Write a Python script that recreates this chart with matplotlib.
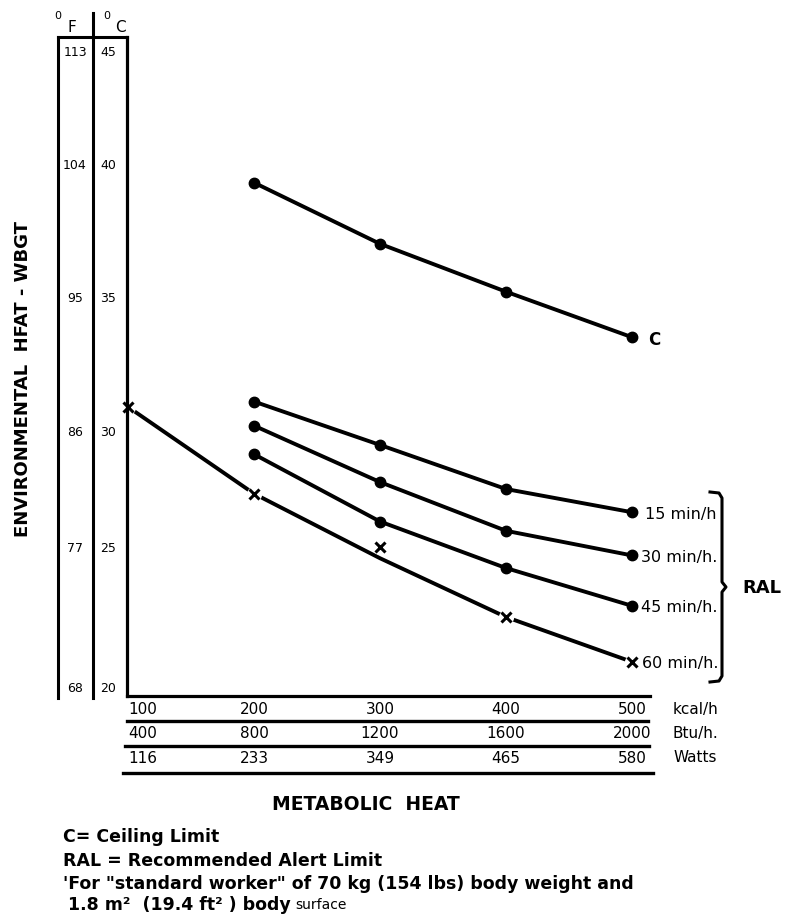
import numpy as np
import matplotlib.pyplot as plt
from matplotlib import transforms

# metabolic heat scales
kcal = [100, 200, 300, 400, 500]
btu = [400, 800, 1200, 1600, 2000]
watts = [116, 233, 349, 465, 580]

# WBGT scale labels
deg_c = [20, 25, 30, 35, 40, 45]
deg_f = [68, 77, 86, 95, 104, 113]

# WBGT (deg C)
load = [200, 300, 400, 500]
ceiling = [39.3, 37.0, 35.2, 33.5]
ral_15 = [31.1, 29.4, 27.5, 26.5]
ral_30 = [30.2, 27.8, 25.7, 24.7]
ral_45 = [29.0, 26.1, 24.25, 22.9]
ral_60_line = [30.9, 27.3, 24.6, 22.5, 20.9]
ral_60_marks = [30.9, 27.3, 25.0, 22.5, 20.9]

curve_names = ['15 min/h', '30 min/h.', '45 min/h.']

W, H = 787, 920
fig = plt.figure(figsize=(W / 100, H / 100), dpi=100)

# background axes in pixel units for the frame, table rules and notes
bg = fig.add_axes([0, 0, 1, 1])
bg.set_xlim(0, W)
bg.set_ylim(H, 0)
bg.axis('off')

ax = fig.add_axes([127 / W, 1 - 697 / H, (650 - 127) / W, (697 - 38) / H])
ax.patch.set_alpha(0)

# the printed WBGT scale is not evenly spaced
t_knots = [15, 20, 25, 30, 35, 40, 45, 50]
r_knots = np.array([828, 688, 548, 432, 298, 165, 52, -61], dtype=float)
def fwd(t):
    return np.interp(t, t_knots, -r_knots)
def inv(p):
    return np.interp(p, -r_knots, t_knots)
ax.set_yscale('function', functions=(fwd, inv))
ax.set_ylim(19.68, 45.62)
ax.set_xlim(99.2, 514.3)
ax.set_xticks([])
ax.set_yticks([])
ax.minorticks_off()
for s in ['top', 'right']:
    ax.spines[s].set_visible(False)
for s in ['left', 'bottom']:
    ax.spines[s].set_linewidth(2.3)

lw = 2.8
ax.plot(load, ceiling, color='k', lw=lw, marker='o', ms=7.5, clip_on=False)
for vals in [ral_15, ral_30, ral_45]:
    ax.plot(load, vals, color='k', lw=lw, marker='o', ms=7.5, clip_on=False)
ax.plot(kcal, ral_60_line, color='k', lw=lw, clip_on=False)
ax.plot(kcal, ral_60_marks, 'o', mfc='white', mec='none', ms=11, clip_on=False)
ax.plot(kcal, ral_60_marks, 'x', color='k', ms=6.5, mew=2.2, clip_on=False)

# curve labels
ax.annotate('C', xy=(load[-1], ceiling[-1]), xytext=(16, -2), textcoords='offset pixels',
            va='center', ha='left', fontsize=12, fontweight='bold')
for name, vals, dx in zip(curve_names, [ral_15, ral_30, ral_45], [13, 9, 9]):
    ax.annotate(name, xy=(load[-1], vals[-1]), xytext=(dx, -1), textcoords='offset pixels',
                va='center', ha='left', fontsize=11.5)
ax.annotate('60 min/h.', xy=(kcal[-1], ral_60_marks[-1]), xytext=(10, -1),
            textcoords='offset pixels', va='center', ha='left', fontsize=11.5)

# brace for RAL
bx = [710, 719, 722, 722, 726, 722, 722, 719, 710]
by = [493, 494, 499, 583, 588, 593, 677, 682, 683]
bg.plot(bx, by, color='k', lw=2.2, solid_joinstyle='round')
bg.text(742, 588, 'RAL', fontsize=13, fontweight='bold', va='center', ha='left')

# temperature columns
bg.plot([58, 58], [38, 699], color='k', lw=2.2)
bg.plot([93, 93], [14, 699], color='k', lw=2.2)
bg.plot([58, 127], [38, 38], color='k', lw=2.2)
bg.text(58, 16, '0', fontsize=8, ha='center', va='center')
bg.text(72, 28, 'F', fontsize=11, ha='center', va='center')
bg.text(107, 16, '0', fontsize=8, ha='center', va='center')
bg.text(120, 28, 'C', fontsize=11, ha='center', va='center')
col_tr = transforms.blended_transform_factory(bg.transData, ax.transData)
for c, f in zip(deg_c, deg_f):
    bg.text(75, c, str(f), transform=col_tr, fontsize=9, ha='center', va='center')
    bg.text(108, c, str(c), transform=col_tr, fontsize=9, ha='center', va='center')

bg.text(23, 379, 'ENVIRONMENTAL  HFAT - WBGT', rotation=90, fontsize=13,
        fontweight='bold', ha='center', va='center')

# metabolic heat table
tab_tr = transforms.blended_transform_factory(ax.transData, bg.transData)
for row, y in zip([kcal, btu, watts], [710, 734, 759]):
    for i, (k, v) in enumerate(zip(kcal, row)):
        bg.text(k, y, str(v), transform=tab_tr, fontsize=11,
                ha='left' if i == 0 else 'center', va='center')
bg.plot([127, 648], [722, 722], color='k', lw=2.4)
bg.plot([125, 649], [747, 747], color='k', lw=2.4)
bg.plot([123, 653], [774, 774], color='k', lw=2.4)
for unit, y in zip(['kcal/h', 'Btu/h.', 'Watts'], [710, 734, 758]):
    bg.text(673, y, unit, fontsize=11, ha='left', va='center')

bg.text(366, 805, 'METABOLIC  HEAT', fontsize=13.5, fontweight='bold', ha='center', va='center')

notes = ['C= Ceiling Limit',
         'RAL = Recommended Alert Limit',
         '\'For "standard worker" of 70 kg (154 lbs) body weight and']
for txt, y in zip(notes, [837, 861, 884]):
    bg.text(63, y, txt, fontsize=12.5, fontweight='bold', ha='left', va='center')
last = bg.text(68, 905, '1.8 m\u00b2  (19.4 ft\u00b2 ) body', fontsize=12.5,
               fontweight='bold', ha='left', va='center')
bg.annotate('surface', xy=(1, 0.5), xycoords=last, xytext=(5, 0),
            textcoords='offset pixels', fontsize=10, ha='left', va='center')

plt.savefig('out.png', dpi=100)
